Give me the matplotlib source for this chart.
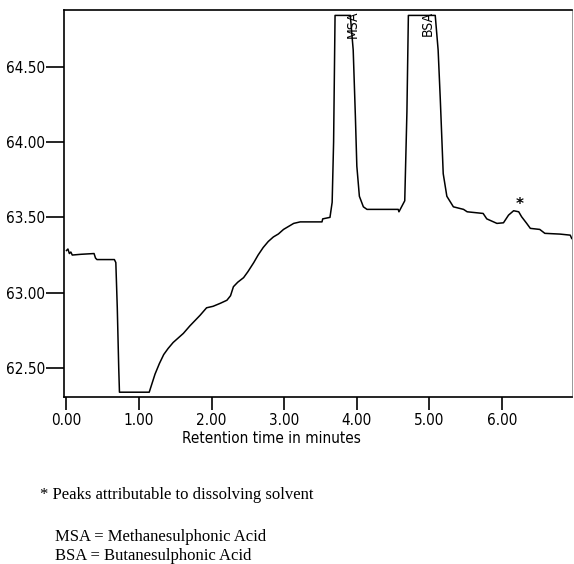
import matplotlib
matplotlib.use("Agg")
import matplotlib.pyplot as plt

# Retention time (min) and detector response
times = [0.00, 0.02, 0.04, 0.06, 0.08, 0.20, 0.38, 0.40, 0.42, 0.66, 0.68, 0.70, 0.72, 0.73,
         1.14, 1.18, 1.22, 1.28, 1.34, 1.40, 1.47, 1.54, 1.61, 1.70, 1.78, 1.84, 1.93, 2.02,
         2.12, 2.21, 2.26, 2.30, 2.36, 2.44, 2.50, 2.58, 2.64, 2.71, 2.78, 2.85, 2.92, 2.99,
         3.06, 3.13, 3.22, 3.52, 3.53, 3.63, 3.66, 3.68, 3.70, 3.91, 3.95, 3.98, 4.00, 4.035,
         4.09, 4.14, 4.57, 4.58, 4.66, 4.69, 4.71, 5.08, 5.12, 5.15, 5.19, 5.24, 5.33, 5.47,
         5.52, 5.74, 5.79, 5.93, 6.02, 6.09, 6.16, 6.23, 6.27, 6.34, 6.39, 6.52, 6.59, 6.80,
         6.94, 6.96]
response = [63.28, 63.29, 63.26, 63.27, 63.25, 63.255, 63.26, 63.23, 63.22, 63.22, 63.20, 62.90, 62.50, 62.34,
            62.34, 62.40, 62.46, 62.53, 62.59, 62.63, 62.67, 62.70, 62.73, 62.78, 62.82, 62.85, 62.90, 62.91,
            62.93, 62.95, 62.98, 63.04, 63.07, 63.10, 63.14, 63.20, 63.25, 63.30, 63.34, 63.37, 63.39, 63.42,
            63.44, 63.46, 63.47, 63.47, 63.49, 63.50, 63.60, 64.00, 64.84, 64.84, 64.61, 64.17, 63.84, 63.64,
            63.57, 63.553, 63.553, 63.537, 63.61, 64.20, 64.84, 64.84, 64.61, 64.28, 63.79, 63.64, 63.57, 63.553,
            63.537, 63.526, 63.49, 63.46, 63.464, 63.515, 63.544, 63.537, 63.504, 63.46, 63.427, 63.42, 63.394, 63.389,
            63.382, 63.36]

peak_names = ["MSA", "BSA"]
peak_times = [3.94, 4.98]
solvent_mark_time = [6.25]
solvent_mark_value = [63.585]

x_ticks = [0, 1, 2, 3, 4, 5, 6]
x_tick_labels = ["0.00", "1.00", "2.00", "3.00", "4.00", "5.00", "6.00"]
y_ticks = [62.5, 63.0, 63.5, 64.0, 64.5]
y_tick_labels = ["62.50", "63.00", "63.50", "64.00", "64.50"]

x_label = "Retention time in minutes"
notes = ["* Peaks attributable to dissolving solvent",
         "MSA = Methanesulphonic Acid",
         "BSA = Butanesulphonic Acid"]

tick_font = dict(family="DejaVu Sans", stretch="condensed", size=11)

fig = plt.figure(figsize=(5.74, 5.64), dpi=100)
ax = fig.add_axes([0.112, 0.2966, 0.884, 0.6857])
ax.plot(times, response, color="black", lw=1.1)
ax.set_xlim(-0.03, 6.96)
ax.set_ylim(62.31, 64.876)

ax.set_xticks(x_ticks)
ax.set_xticklabels(x_tick_labels, fontdict=tick_font)
ax.set_yticks(y_ticks)
ax.set_yticklabels(y_tick_labels, fontdict=tick_font)
ax.tick_params(axis="x", direction="out", length=9, width=1.2, pad=3)
ax.tick_params(axis="y", direction="out", length=13, width=1.2, pad=1)
for s in ax.spines.values():
    s.set_linewidth(1.2)
ax.spines["right"].set_linewidth(0.6)
ax.spines["right"].set_color("#888888")

ax.set_xlabel(x_label, fontdict=tick_font, labelpad=0)
ax.xaxis.set_label_coords(0.408, -0.107)
ax.xaxis.label.set_va("center")

for name, t in zip(peak_names, peak_times):
    ax.text(t, 64.87, name, rotation=90, ha="center", va="top",
            family="DejaVu Sans", stretch="condensed", fontsize=10)

ax.text(solvent_mark_time[0], solvent_mark_value[0], "*", ha="center", va="center",
        fontsize=11, fontweight="bold", family="DejaVu Sans")

fig.text(40 / 574, 1 - 495 / 564, notes[0], family="Liberation Serif", fontsize=12, va="center")
fig.text(55 / 574, 1 - 537 / 564, notes[1], family="Liberation Serif", fontsize=12, va="center")
fig.text(55 / 574, 1 - 556 / 564, notes[2], family="Liberation Serif", fontsize=12, va="center")

fig.savefig("out.png", dpi=100)
